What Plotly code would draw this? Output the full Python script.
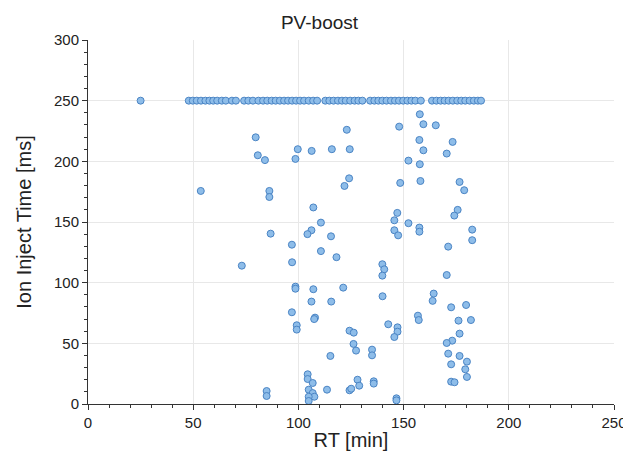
import plotly.graph_objects as go

# points sitting on the 250 ms cap
rt_capped = [25.0, 47.9, 49.8, 51.7, 53.7, 55.8, 57.7, 59.5, 61.4, 63.6, 65.5, 68.4, 70.3,
             74.2, 76.2, 78.4, 81.0, 83.2, 85.2, 87.3, 89.2, 91.2, 93.2, 95.1, 97.0, 98.9,
             100.8, 102.7, 104.9, 107.0, 108.9,
             112.8, 114.7, 116.7, 118.8, 120.7, 122.5, 124.6, 126.7, 128.5, 130.4,
             134.1, 136.1, 138.0, 139.9, 141.9, 144.0, 145.9, 147.8, 149.8, 151.8, 153.7,
             155.6, 158.2,
             163.5, 165.6, 167.6, 169.5, 171.4, 173.4, 175.5, 177.4, 179.3, 181.4, 183.4,
             185.3, 186.8]
iit_capped = [250] * len(rt_capped)

# points below the cap
rt_free = [53.6, 73.1, 79.7, 80.7, 84.1, 86.2, 86.2, 86.8, 84.9, 84.9,
           123.0, 99.7, 106.3, 115.9, 124.4, 98.6, 124.1, 121.9, 107.1, 110.7,
           106.2, 104.3, 115.5, 96.9, 110.7, 118.1,
           157.7, 147.9, 159.4, 165.3, 157.5, 173.3, 159.4, 170.5, 152.3, 157.7,
           148.4, 158.0, 176.6, 178.8, 175.7, 174.1, 147.0, 145.6, 152.3, 157.5,
           157.5, 145.6, 147.4, 182.6, 182.6, 171.2,
           97.0, 139.9, 140.8, 139.9, 98.6, 98.6, 107.1, 121.3, 106.2, 115.6,
           140.0, 96.9, 107.9, 107.5, 99.2, 99.2, 124.3, 126.3, 126.2, 127.4,
           135.0, 135.0, 115.2, 104.4, 104.4, 106.8, 104.9, 106.8, 107.6, 104.9,
           104.9, 113.6, 124.3, 125.1, 128.1, 128.9, 135.8, 135.8,
           170.5, 164.3, 163.8, 172.6, 179.7, 156.8, 157.2, 176.1, 182.0, 142.7,
           147.1, 147.1, 145.6, 176.6, 173.1, 170.5, 171.2, 176.6, 180.1, 172.6,
           179.3, 180.1, 172.6, 174.2, 146.6, 146.6]
iit_free = [175.6, 114.0, 219.8, 205.0, 201.0, 175.6, 170.6, 140.4, 10.7, 6.6,
            226.0, 210.0, 208.6, 210.0, 210.0, 202.0, 186.0, 179.7, 162.0, 149.5,
            143.2, 140.0, 138.2, 131.3, 126.0, 121.0,
            238.8, 228.6, 230.6, 229.7, 217.6, 216.0, 209.1, 206.4, 200.6, 197.6,
            182.2, 183.8, 183.0, 176.2, 160.0, 155.3, 157.5, 151.4, 149.0, 145.4,
            142.0, 143.2, 139.0, 143.7, 135.0, 129.7,
            116.8, 115.2, 111.0, 105.8, 96.7, 95.0, 94.6, 95.9, 84.4, 84.4,
            88.8, 75.6, 71.2, 70.0, 64.9, 61.3, 60.4, 58.8, 49.5, 44.0,
            44.8, 40.1, 39.6, 24.5, 20.6, 17.3, 11.8, 9.0, 6.0, 6.0,
            2.5, 11.8, 11.3, 12.6, 20.0, 15.1, 18.7, 16.8,
            106.3, 91.0, 85.0, 79.7, 81.6, 72.8, 69.2, 68.7, 69.2, 65.7,
            63.2, 59.6, 55.2, 58.0, 52.2, 50.3, 41.5, 39.6, 34.9, 32.7,
            28.6, 22.3, 18.4, 17.9, 4.7, 3.0]

rt = rt_capped + rt_free
iit = iit_capped + iit_free

fig = go.Figure(go.Scatter(
    x=rt, y=iit, mode='markers',
    marker=dict(size=7, color='#8ebde9', line=dict(color='#4a84c4', width=1)),
    showlegend=False,
))

axis_style = dict(
    showgrid=True, gridcolor='#e8e8e8', gridwidth=1,
    showline=True, linecolor='#333333', linewidth=1,
    ticks='outside', ticklen=5, tickcolor='#333333',
    tickfont=dict(family='Liberation Sans, Arial', size=15, color='#222222'),
    zeroline=False, automargin=False, ticklabeloverflow='allow',
    minor=dict(dtick=10, ticks='outside', ticklen=3, tickcolor='#333333', showgrid=False),
)

fig.update_xaxes(range=[0, 250], dtick=50, tick0=0,
                 title=dict(text='RT [min]', font=dict(size=20), standoff=2),
                 **axis_style)
fig.update_yaxes(range=[0, 300], dtick=50, tick0=0,
                 title=dict(text='Ion Inject Time [ms]', font=dict(size=20), standoff=16),
                 **axis_style)

# the page body adds an 8px margin, so the figure is sized to fit inside it
fig.update_layout(
    width=623, height=454,
    margin=dict(l=80, r=17, t=32, b=58),
    paper_bgcolor='white', plot_bgcolor='white',
    font=dict(family='Liberation Sans, Arial', color='#222222'),
    title=dict(text='PV-boost', x=0.5, xanchor='center', y=0.969, yanchor='middle',
               font=dict(size=19, color='#222222')),
)

fig.write_html("out.html")
